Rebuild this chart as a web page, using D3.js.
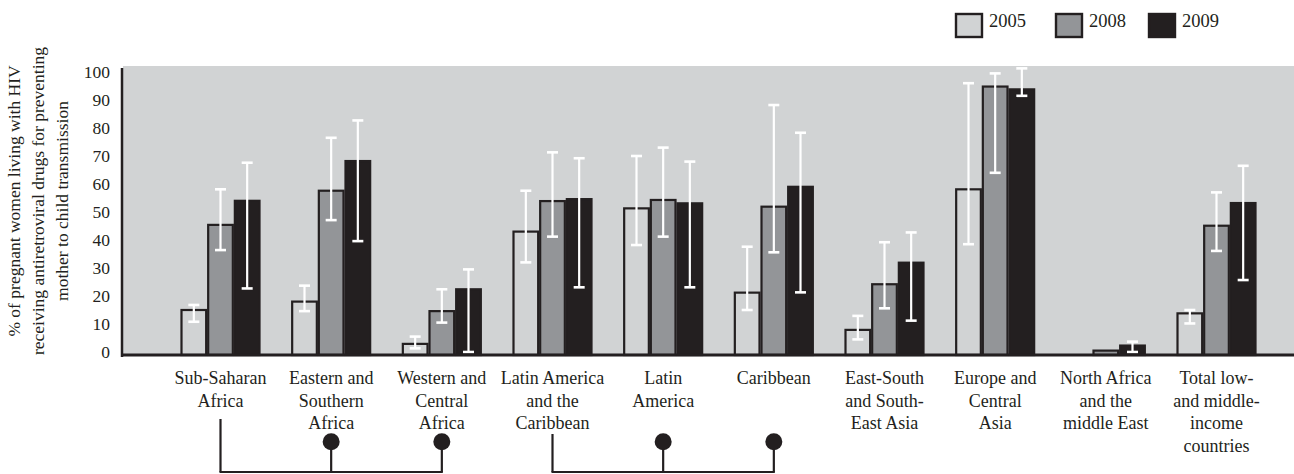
<!DOCTYPE html>
<html>
<head>
<meta charset="utf-8">
<script src="https://cdn.jsdelivr.net/npm/d3@7/dist/d3.min.js"></script>
<style>
  html, body { margin: 0; padding: 0; background: #fff; }
  svg { display: block; }
  text { font-family: "Liberation Serif", "Times New Roman", serif; fill: #231f20; }
</style>
</head>
<body>
<svg id="chart" width="1294" height="474"></svg>
<script>
// Regions, in display order; each label is split over several lines
const categories = [
  "Sub-Saharan Africa", "Eastern and Southern Africa", "Western and Central Africa",
  "Latin America and the Caribbean", "Latin America", "Caribbean",
  "East-South and South-East Asia", "Europe and Central Asia",
  "North Africa and the middle East", "Total low- and middle-income countries"
];
const categoryLines = [
  ["Sub-Saharan", "Africa"],
  ["Eastern and", "Southern", "Africa"],
  ["Western and", "Central", "Africa"],
  ["Latin America", "and the", "Caribbean"],
  ["Latin", "America"],
  ["Caribbean"],
  ["East-South", "and South-", "East Asia"],
  ["Europe and", "Central", "Asia"],
  ["North Africa", "and the", "middle East"],
  ["Total low-", "and middle-", "income", "countries"]
];
const years = ["2005", "2008", "2009"];

// Coverage (%) and uncertainty ranges per year
const values2005 = [15, 18, 2.9, 43, 51.3, 21.2, 7.9, 58.1, null, 13.8];
const values2008 = [45.4, 57.6, 14.6, 53.9, 54.3, 51.9, 24.2, 94.8, 0.5, 45.1];
const values2009 = [54, 68.2, 22.4, 54.6, 53.1, 59, 31.9, 93.8, 2.3, 53.2];
const low2005  = [10.8, 14.6, 1.3, 32, 38.2, 15, 4.5, 38.5, null, 10.2];
const high2005 = [16.8, 23.7, 5.5, 57.6, 70, 37.6, 12.9, 96, null, 15];
const low2008  = [36.4, 47.1, 10.5, 41.2, 41.2, 35.6, 15.6, 64, null, 36.1];
const high2008 = [58.1, 76.5, 22.4, 71.3, 73, 88.2, 39.2, 99.5, null, 57];
const low2009  = [22.7, 39.6, 0, 23.1, 23.1, 21.3, 11.2, 91.5, 0, 25.7];
const high2009 = [67.6, 82.7, 29.5, 69.2, 68, 78.3, 42.7, 101.3, 3.7, 66.5];

const yTicks = [0, 10, 20, 30, 40, 50, 60, 70, 80, 90, 100];
const yTitleLines = [
  "% of pregnant women living with HIV",
  "receiving antiretroviral drugs for preventing",
  "mother to child transmission"
];

// Regions grouped under a parent region (bracket connectors below the axis)
const groupings = [
  { parent: 0, children: [1, 2] },
  { parent: 3, children: [4, 5] }
];

const seriesValues = [values2005, values2008, values2009];
const seriesLow = [low2005, low2008, low2009];
const seriesHigh = [high2005, high2008, high2009];

const fills = { "2005": "#d1d3d4", "2008": "#939598", "2009": "#231f20" };
const dark = "#231f20";
const bg = "#d1d3d4";

const svg = d3.select("#chart");

const plot = { left: 123, right: 1294, top: 66, bottom: 356 };
const baseY = 355;            // baseline drawn a little below the zero tick

const y = d3.scaleLinear().domain([0, 100]).range([352, 72]);
const x = d3.scalePoint().domain(categories).range([220.5, 1216.5]);
const groupWidth = 80;
const xs = d3.scaleBand().domain(years).range([-groupWidth / 2, groupWidth / 2]);

// Plot background
svg.append("rect")
  .attr("x", plot.left).attr("y", plot.top)
  .attr("width", plot.right - plot.left).attr("height", plot.bottom - plot.top)
  .attr("fill", bg);

// Bars
const barData = [];
categories.forEach((c, i) => {
  years.forEach((yr, k) => {
    const v = seriesValues[k][i];
    if (v !== null) barData.push({ c, yr, v, lo: seriesLow[k][i], hi: seriesHigh[k][i] });
  });
});

svg.append("g").selectAll("rect").data(barData).join("rect")
  .attr("x", d => x(d.c) + xs(d.yr) + 1)
  .attr("y", d => y(d.v))
  .attr("width", xs.bandwidth() - 2)
  .attr("height", d => baseY - y(d.v))
  .attr("fill", d => fills[d.yr])
  .attr("stroke", dark)
  .attr("stroke-width", 2.2);

// Error bars
const errG = svg.append("g").attr("stroke", "#fff").attr("stroke-width", 2.2);
barData.filter(d => d.lo !== null).forEach(d => {
  const cx = x(d.c) + xs(d.yr) + xs.bandwidth() / 2;
  errG.append("line").attr("x1", cx).attr("x2", cx).attr("y1", y(d.hi)).attr("y2", y(d.lo));
  [d.hi, d.lo].forEach(v => {
    errG.append("line").attr("x1", cx - 5.5).attr("x2", cx + 5.5)
      .attr("y1", y(v)).attr("y2", y(v)).attr("stroke-width", 2.6);
  });
});

// Axes lines
svg.append("line").attr("x1", plot.left - 1).attr("x2", plot.left - 1)
  .attr("y1", 68).attr("y2", 357).attr("stroke", dark).attr("stroke-width", 2.5);
svg.append("line").attr("x1", plot.left - 2).attr("x2", plot.right)
  .attr("y1", baseY).attr("y2", baseY).attr("stroke", dark).attr("stroke-width", 3);

// Y tick labels
svg.append("g").selectAll("text").data(yTicks).join("text")
  .attr("x", 110).attr("y", d => y(d))
  .attr("dy", "0.35em")
  .attr("text-anchor", "end")
  .style("font-size", "17.5px")
  .text(d => d);

// Y axis title
const yTitle = svg.append("text")
  .attr("transform", "translate(0,201) rotate(-90)")
  .attr("text-anchor", "middle")
  .style("font-size", "17.5px");
yTitleLines.forEach((t, i) => {
  yTitle.append("tspan").attr("x", 0).attr("y", 20 + i * 24).text(t);
});

// Category labels
const lineH = 22.5;
categories.forEach((c, i) => {
  const t = svg.append("text")
    .attr("text-anchor", "middle")
    .style("font-size", "18px");
  categoryLines[i].forEach((line, j) => {
    t.append("tspan").attr("x", x(c)).attr("y", 384 + j * lineH).text(line);
  });
});

// Bracket connectors
const bracketY = 472;
const dotY = 441.7;
const parentTop = lines => 389 + lines * 15;
const conn = svg.append("g").attr("stroke", dark).attr("stroke-width", 2.2).attr("fill", "none");
groupings.forEach(g => {
  const px = x(categories[g.parent]);
  const lastX = x(categories[g.children[g.children.length - 1]]);
  conn.append("line").attr("x1", px).attr("x2", px)
    .attr("y1", parentTop(categoryLines[g.parent].length)).attr("y2", bracketY);
  conn.append("line").attr("x1", px - 1).attr("x2", lastX + 1)
    .attr("y1", bracketY).attr("y2", bracketY);
  g.children.forEach(ci => {
    const cx = x(categories[ci]);
    conn.append("line").attr("x1", cx).attr("x2", cx).attr("y1", dotY).attr("y2", bracketY);
    svg.append("circle").attr("cx", cx).attr("cy", dotY).attr("r", 8.5).attr("fill", dark);
  });
});

// Legend
const legendX = [955, 1055, 1148];
years.forEach((yr, k) => {
  svg.append("rect")
    .attr("x", legendX[k] + 1).attr("y", 14)
    .attr("width", 26).attr("height", 23)
    .attr("fill", fills[yr]).attr("stroke", dark).attr("stroke-width", 2.4);
  svg.append("text")
    .attr("x", legendX[k] + 34).attr("y", 27)
    .style("font-size", "18.5px")
    .text(yr);
});
</script>
</body>
</html>
